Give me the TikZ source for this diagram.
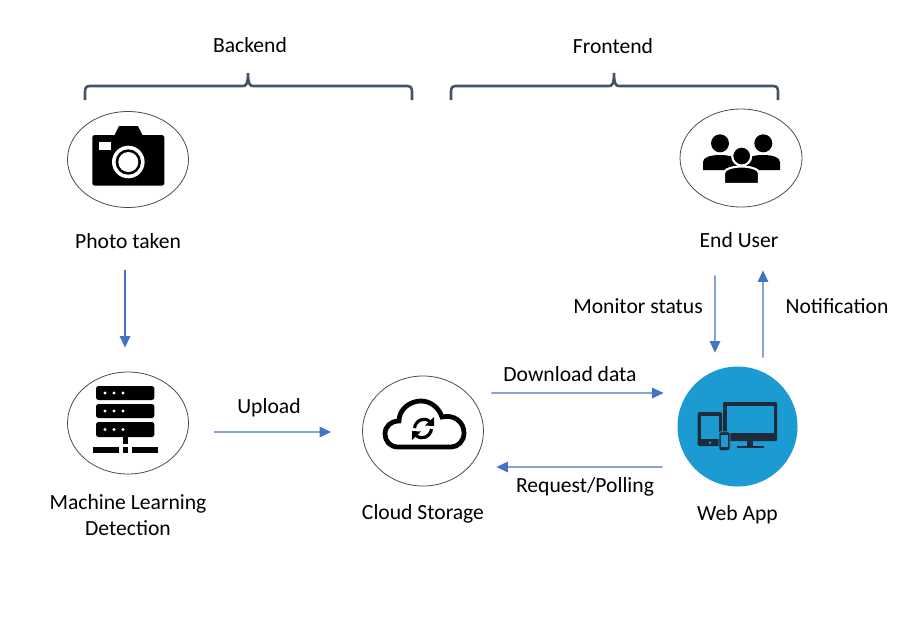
\documentclass[tikz,border=0pt]{standalone}
\usepackage{fontspec}
\setmainfont{Carlito}
\usetikzlibrary{arrows.meta, positioning, shapes.geometric}
\definecolor{flowblue}{HTML}{4472C4}
\definecolor{bracegray}{HTML}{44546A}
\definecolor{appblue}{HTML}{1C9BD3}
\definecolor{appdark}{HTML}{1D2B3A}

\begin{document}
\begin{tikzpicture}[x=0.2mm, y=-0.2mm,
    round/.style={draw=bracegray!90!black, line width=0.45pt, ellipse, inner sep=0pt},
    lbl/.style={font=\fontsize{12.3}{14.7}\selectfont, inner sep=0pt, align=center},
    flow/.style={draw=flowblue, line width=0.7pt, -{Triangle[length=2.3mm,width=2.1mm]}},
    brc/.style={draw=bracegray, line width=1.5pt}]
\useasboundingbox (0,0) rectangle (902,638);

% Main circles
\node[round, minimum width=24.2mm, minimum height=19.2mm] (photo) at (128,159.5) {};
\node[round, minimum width=24.2mm, minimum height=20.4mm] (mldet) at (128,423) {};
\node[round, minimum width=24.2mm, minimum height=22mm] (cloud) at (423,431) {};
\node[round, minimum width=24.4mm, minimum height=19.6mm] (users) at (741,158) {};
\node[circle, fill=appblue, inner sep=0pt, minimum size=24mm] (webapp) at (737.5,426.5) {};

% Labels under the circles
\node[lbl, below=5mm of photo] (lbl-photo) {Photo taken};
\node[lbl, below=4mm of mldet] (lbl-mldet) {Machine Learning\\Detection};
\node[lbl, below=3.5mm of cloud] (lbl-cloud) {Cloud Storage};
\node[lbl, below=5mm of users, xshift=-0.4mm] (lbl-users) {End User};
\node[lbl, below=3.6mm of webapp] (lbl-webapp) {Web App};

% Group titles and braces
\node[lbl] (backend) at (250,45) {Backend};
\node[lbl] (frontend) at (613,46) {Frontend};
\draw[brc] (85,100) -- (85,92) .. controls (85,88) and (86,86) .. (90,86) -- (243,86)
    .. controls (246,86) and (248,84) .. (248,73) .. controls (248,84) and (250,86) .. (253,86)
    -- (407,86) .. controls (411,86) and (412,88) .. (412,92) -- (412,100);
\draw[brc] (451,100) -- (451,92) .. controls (451,88) and (452,86) .. (456,86) -- (609,86)
    .. controls (612,86) and (614,84) .. (614,73) .. controls (614,84) and (616,86) .. (619,86)
    -- (773,86) .. controls (777,86) and (778,88) .. (778,92) -- (778,100);

% Camera icon
\fill[rounded corners=0.5mm] (92.3,135) rectangle (164.3,185.7);
\fill (114,136) -- (119,126) -- (138,126) -- (143,136) -- cycle;
\fill[white] (99,142) rectangle (110.7,150);
\fill[white] (128.3,162) circle (16.3);
\fill (128.3,162) circle (12.7);
\fill[white] (128.3,162) circle (10);

% Server icon
\foreach \ya/\yb in {386/400, 404/418, 422/437} {
  \fill[rounded corners=0.5mm] (96,\ya) rectangle (154.3,\yb);
  \foreach \xd in {105,114,123}
    \fill[white] (\xd,{(\ya+\yb)/2}) circle (1.6);
}
\fill (122.7,437) rectangle (128,444);
\fill (92.7,447) rectangle (119,453);
\fill (122.7,447) rectangle (128,453);
\fill (131.7,447) rectangle (157.7,453);

% Cloud icon
\draw[line width=2.7pt] (398,447) .. controls (390,447) and (385,441) .. (385,434)
    .. controls (385,426) and (391,421) .. (399,421)
    .. controls (399,409) and (410,401) .. (421,401)
    .. controls (431,401) and (439,408) .. (442,417)
    .. controls (454,414) and (464,422) .. (464,433)
    .. controls (464,441) and (458,447) .. (451,447) -- cycle;
\draw[line width=1.8pt, -{Triangle[length=1.3mm,width=2.4mm]}] (414.5,428) .. controls (415.5,420) and (425,416.5) .. (434,426);
\draw[line width=1.8pt, -{Triangle[length=1.3mm,width=2.4mm]}] (431.5,429) .. controls (430.5,437) and (421,440.5) .. (412,431);

% Users icon
\fill (720,143.3) circle (9);
\fill (763.3,143.3) circle (9);
\fill (703,170) -- (703,162) .. controls (703,157) and (711,155) .. (720,155)
    .. controls (729,155) and (737,157) .. (737,162) -- (737,170) -- cycle;
\fill (746,170) -- (746,162) .. controls (746,157) and (754,155) .. (763,155)
    .. controls (772,155) and (780,157) .. (780,162) -- (780,170) -- cycle;
\filldraw[draw=white, line width=1.2pt] (741.7,156) circle (9.5);
\filldraw[draw=white, line width=1.2pt] (724,184) -- (724,173) .. controls (724,169) and (733,166.5) .. (741.5,166.5)
    .. controls (750,166.5) and (759,169) .. (759,173) -- (759,184) -- cycle;

% Devices icon
\fill[appdark, rounded corners=0.2mm] (723,402) rectangle (777,441);
\fill[appblue] (726.7,405.7) rectangle (774,433);
\fill[appdark] (747,441) rectangle (753,446);
\fill[appdark] (737,446) rectangle (764,448);
\fill[appdark, rounded corners=0.3mm] (697.7,412) rectangle (722,446);
\fill[appblue] (700.7,415.7) rectangle (719,439);
\fill[appblue] (710,442.7) circle (1.4);
\filldraw[draw=appblue, fill=appdark, line width=0.5pt, rounded corners=0.3mm] (719,431.7) rectangle (730,450.7);
\fill[appblue] (721,434.5) rectangle (728,446.5);

% Connections
\draw[flow] ([xshift=-0.6mm, yshift=-12.4mm]photo.south) -- ([xshift=-0.6mm, yshift=4.8mm]mldet.north);
\draw[flow] ([xshift=5mm, yshift=-1.8mm]mldet.east) -- ([xshift=-6.2mm, yshift=-0.2mm]cloud.west);
\draw[flow] ([xshift=1.5mm, yshift=7.6mm]cloud.east) -- ([xshift=-2.7mm, yshift=6.7mm]webapp.west);
\draw[flow] ([xshift=-2.9mm, yshift=-8.1mm]webapp.west) -- ([xshift=2.5mm, yshift=-7.2mm]cloud.east);
\draw[flow] ([xshift=-5.2mm, yshift=-13.6mm]users.south) -- ([xshift=-4.5mm, yshift=2.7mm]webapp.north);
\draw[flow] ([xshift=5.1mm, yshift=1.7mm]webapp.north) -- ([xshift=4.4mm, yshift=-12.6mm]users.south);

% Connection labels
\node[lbl] (lbl-upload) at (269,408) {Upload};
\node[lbl] (lbl-download) at (570,374) {Download data};
\node[lbl] (lbl-request) at (585,487) {Request/Polling};
\node[lbl] (lbl-monitor) at (638,306) {Monitor status};
\node[lbl] (lbl-notify) at (837,306) {Notification};

\end{tikzpicture}
\end{document}
